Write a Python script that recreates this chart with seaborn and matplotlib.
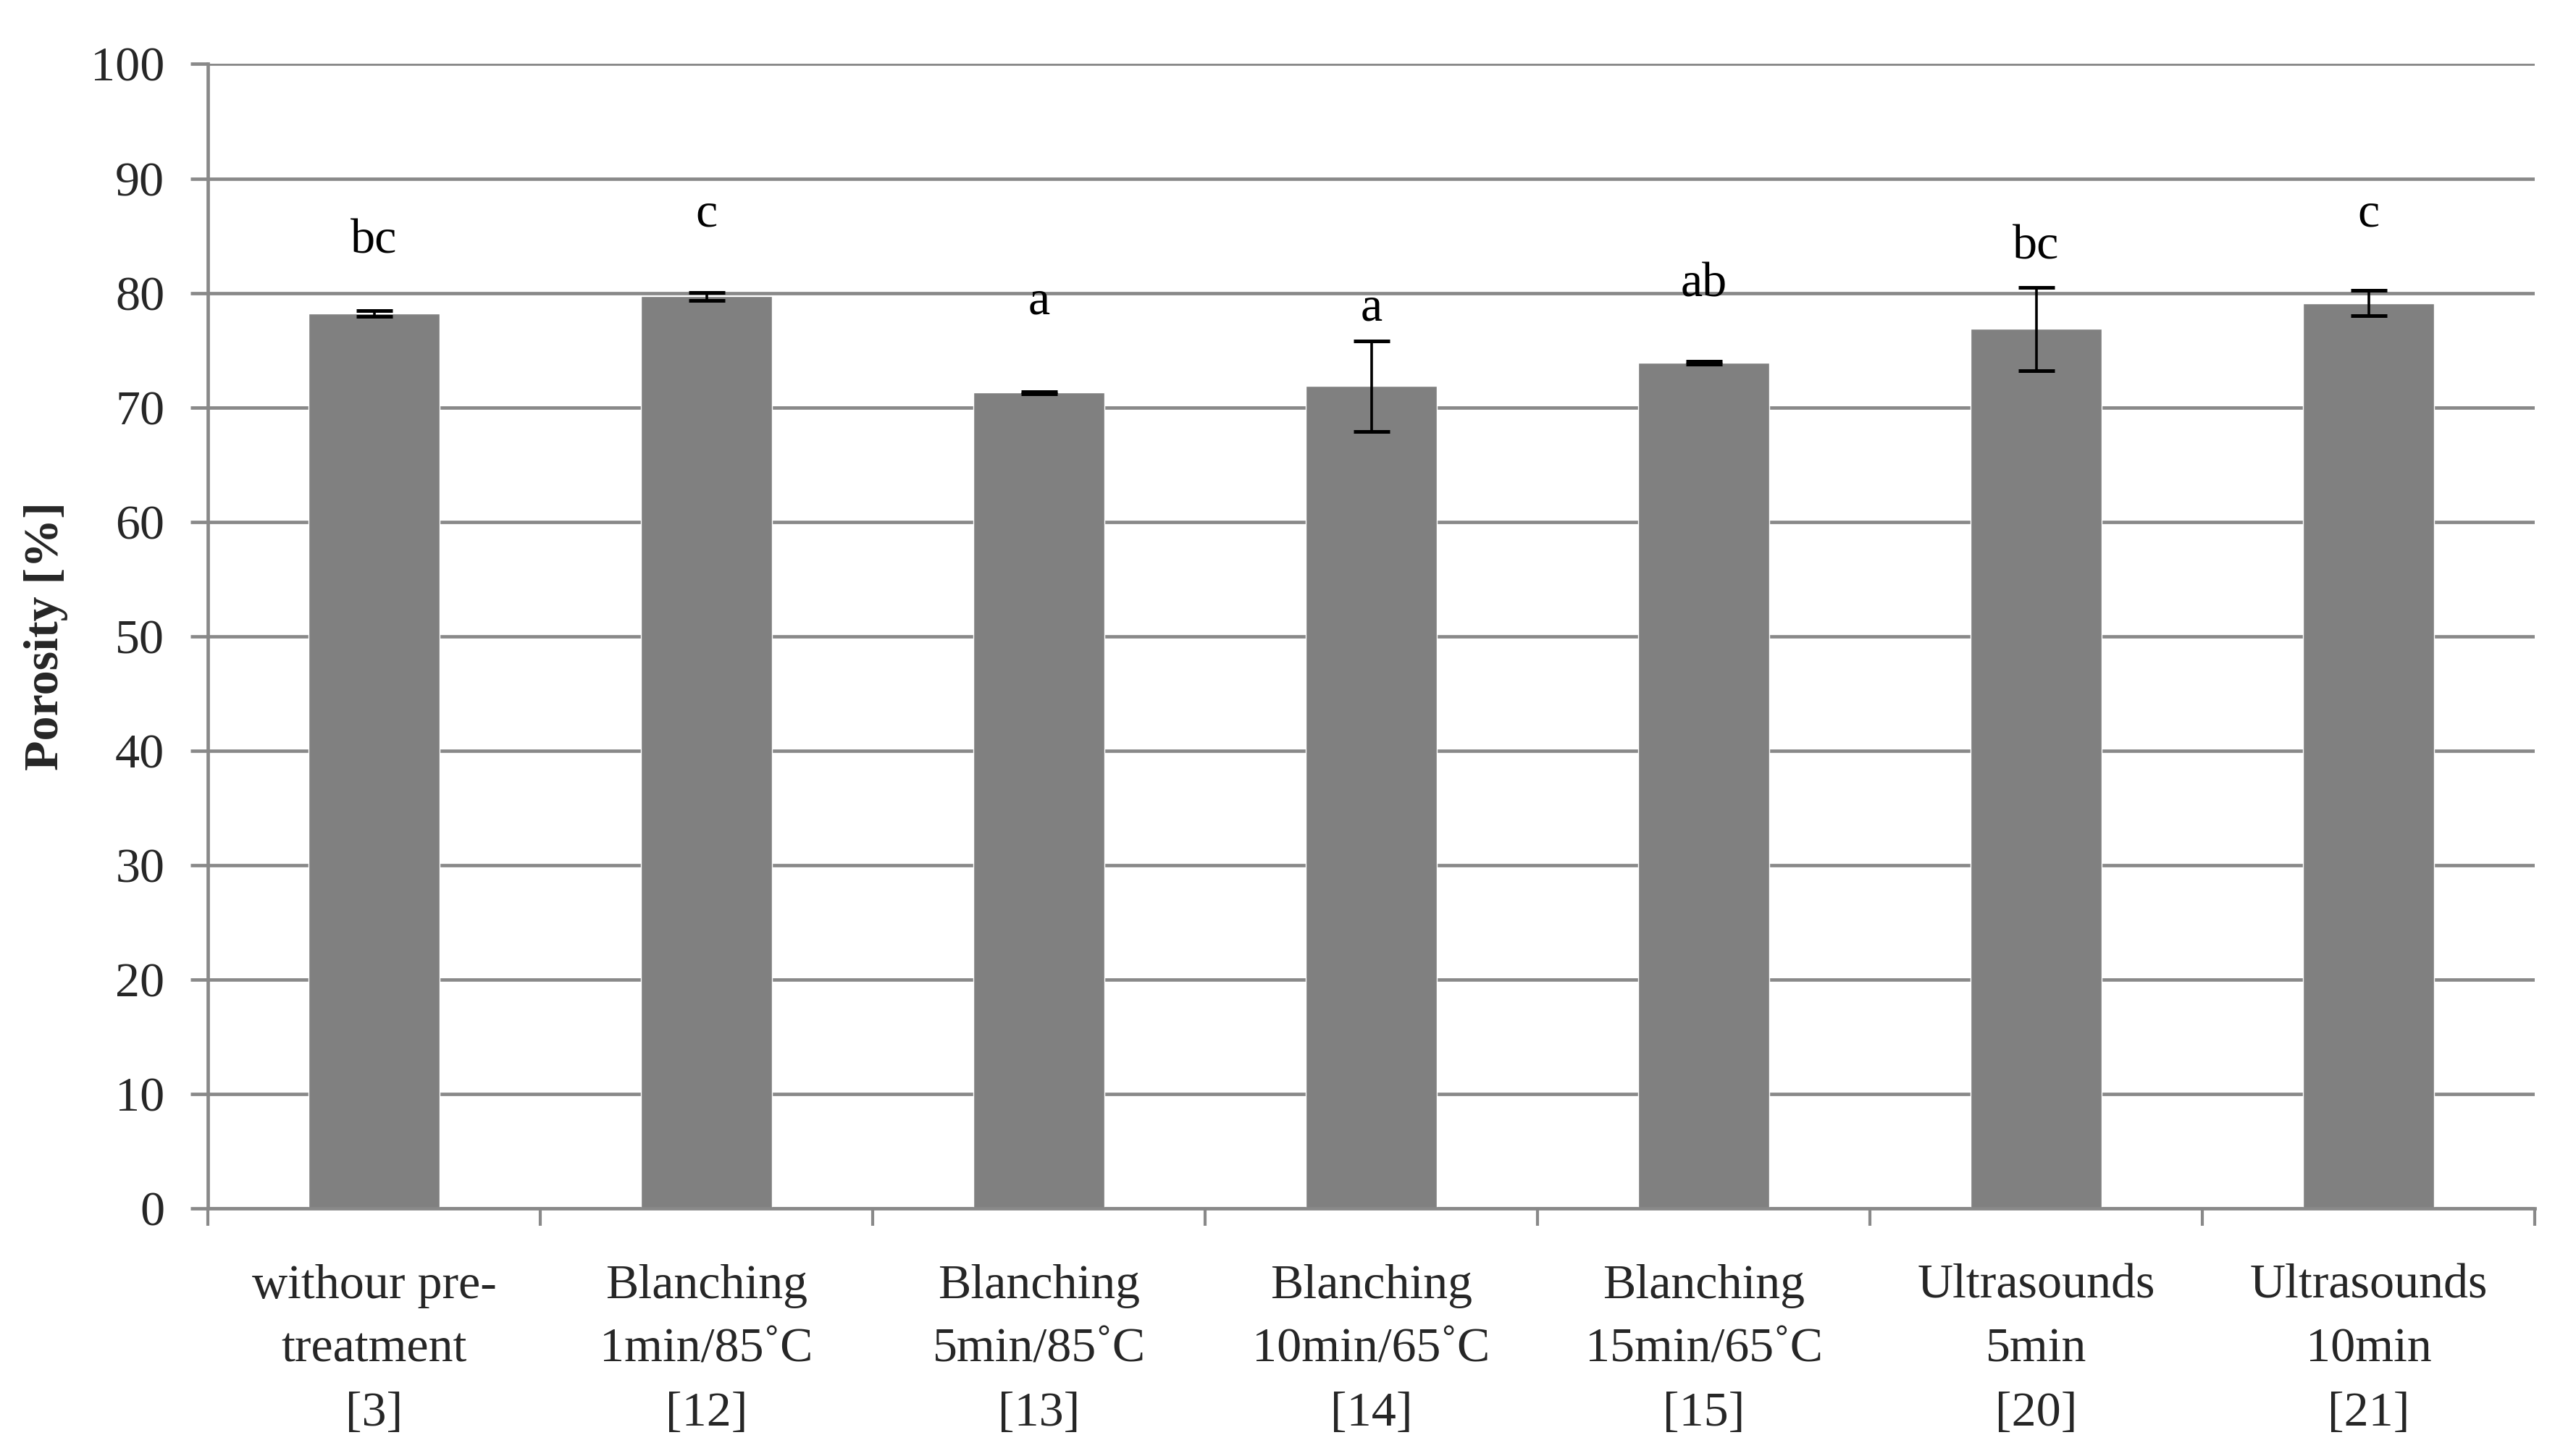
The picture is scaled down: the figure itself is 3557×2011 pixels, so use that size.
import numpy as np
import pandas as pd
import seaborn as sns
import matplotlib.pyplot as plt

# Data
treatments = ['withour pre-\ntreatment\n[3]', 'Blanching\n1min/85˚C\n[12]', 'Blanching\n5min/85˚C\n[13]',
              'Blanching\n10min/65˚C\n[14]', 'Blanching\n15min/65˚C\n[15]', 'Ultrasounds\n5min\n[20]',
              'Ultrasounds\n10min\n[21]']
porosity = [78.2, 79.7, 71.3, 71.85, 73.9, 76.85, 79.1]
std_dev = [0.25, 0.35, 0.1, 3.95, 0.15, 3.65, 1.1]
letters = ['bc', 'c', 'a', 'a', 'ab', 'bc', 'c']
letter_y = [83.5, 85.8, 78.2, 77.6, 79.7, 83.0, 85.8]

df = pd.DataFrame({'Treatment': treatments, 'Porosity': porosity, 'SD': std_dev})

sns.set_style('white')
plt.rcParams['font.family'] = ['Liberation Serif', 'DejaVu Serif']

grid_col = '#898989'
fs = 49

fig = plt.figure(figsize=(35.57, 20.11), dpi=100)
ax = fig.add_axes([0.0807, 0.170, 0.9033, 0.786])

sns.barplot(data=df, x='Treatment', y='Porosity', color='#808080', saturation=1,
            width=0.395, errorbar=None, ax=ax, zorder=2)
ax.errorbar(np.arange(len(df)), df['Porosity'], yerr=df['SD'], fmt='none',
            ecolor='black', elinewidth=2.6, capsize=18, capthick=3.6, zorder=3)

for i, (lab, yy) in enumerate(zip(letters, letter_y)):
    ax.text(i, yy, lab, ha='center', va='baseline', fontsize=fs, color='black', zorder=4)

# Axes styling
ax.set_ylim(0, 100)
ax.set_xlim(-0.5, len(df) - 0.5)
ax.set_yticks(np.arange(0, 101, 10))
ax.yaxis.grid(True, color=grid_col, linewidth=3.4)
ax.set_axisbelow(True)

for side in ['top', 'right']:
    ax.spines[side].set_visible(False)
for side in ['left', 'bottom']:
    ax.spines[side].set_color(grid_col)
    ax.spines[side].set_linewidth(3.4)

ax.tick_params(axis='y', direction='out', length=17, width=3.4, color=grid_col,
               labelsize=fs, pad=26, left=True)
ax.set_xticks(np.arange(-0.5, len(df), 1.0), minor=True)
ax.tick_params(axis='x', which='minor', direction='out', length=17, width=3.0,
               color=grid_col, bottom=True)
ax.tick_params(axis='x', which='major', length=0, labelsize=fs, pad=55)
for t in ax.get_xticklabels():
    t.set_linespacing(1.58)

ax.set_xlabel('')
ax.set_ylabel('Porosity [%]', fontsize=fs, fontweight='bold', labelpad=22)

fig.savefig('out.png', dpi=100, facecolor='white')
